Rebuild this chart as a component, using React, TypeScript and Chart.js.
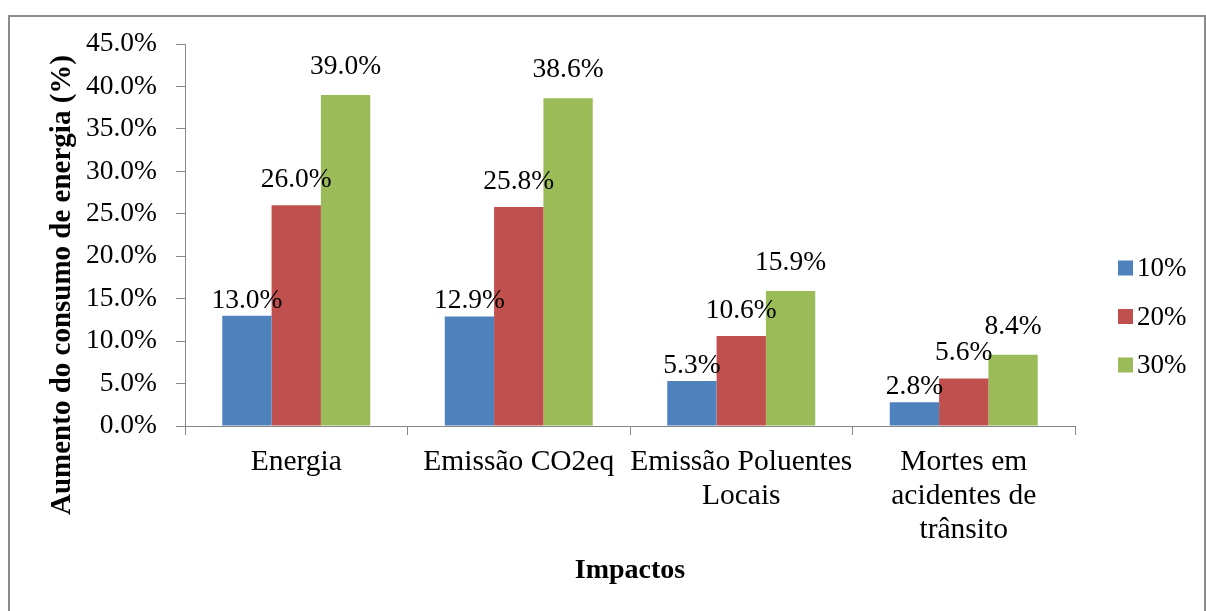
import React, { useEffect, useRef } from "react";
import { Chart, registerables } from "chart.js";

Chart.register(...registerables);

const categories: string[][] = [
  ["Energia"],
  ["Emissão CO2eq"],
  ["Emissão Poluentes", "Locais"],
  ["Mortes em", "acidentes de", "trânsito"],
];
const seriesNames = ["10%", "20%", "30%"];
const series10 = [13.0, 12.9, 5.3, 2.8];
const series20 = [26.0, 25.8, 10.6, 5.6];
const series30 = [39.0, 38.6, 15.9, 8.4];
const seriesColors = ["#4F81BD", "#C0504D", "#9BBB59"];
const yMin = 0;
const yMax = 45;
const yStep = 5;
const xTitle = "Impactos";
const yTitle = "Aumento do consumo de energia (%)";

const FONT = '"Liberation Serif", "Times New Roman", serif';
const AXIS = "#868686";
const labelLift = [8, 18, 21];

const fmt = (v: number) => v.toFixed(1) + "%";

const framePlugin = {
  id: "frame",
  beforeDraw(chart: any) {
    const ctx = chart.ctx;
    ctx.save();
    ctx.fillStyle = "#ffffff";
    ctx.fillRect(0, 0, chart.width, chart.height);
    ctx.strokeStyle = "#8c8c8c";
    ctx.lineWidth = 2;
    ctx.strokeRect(9, 16, 1196, 640);
    ctx.restore();
  },
};

const valueLabels = {
  id: "valueLabels",
  afterDatasetsDraw(chart: any) {
    const ctx = chart.ctx;
    ctx.save();
    ctx.font = `27.5px ${FONT}`;
    ctx.fillStyle = "#000";
    ctx.textAlign = "center";
    ctx.textBaseline = "alphabetic";
    chart.data.datasets.forEach((ds: any, di: number) => {
      const meta = chart.getDatasetMeta(di);
      meta.data.forEach((bar: any, i: number) => {
        ctx.fillText(fmt(ds.data[i]), bar.x, bar.y - labelLift[di]);
      });
    });
    ctx.restore();
  },
};

const sideTexts = {
  id: "sideTexts",
  afterDraw(chart: any) {
    const ctx = chart.ctx;
    ctx.save();
    // y-axis title
    ctx.font = `bold 29px ${FONT}`;
    ctx.fillStyle = "#000";
    ctx.textAlign = "center";
    ctx.textBaseline = "alphabetic";
    ctx.translate(70, 285);
    ctx.rotate(-Math.PI / 2);
    ctx.fillText(yTitle, 0, 0);
    ctx.restore();

    // legend
    ctx.save();
    ctx.font = `27px ${FONT}`;
    ctx.textAlign = "left";
    ctx.textBaseline = "middle";
    chart.data.datasets.forEach((ds: any, i: number) => {
      const yc = 268 + i * 48.5;
      ctx.fillStyle = ds.backgroundColor;
      ctx.fillRect(1118, yc - 7.5, 15, 15);
      ctx.fillStyle = "#000";
      ctx.fillText(ds.label, 1137, yc + 1);
    });
    ctx.restore();
  },
};

export default function App() {
  const ref = useRef<HTMLCanvasElement>(null);
  useEffect(() => {
    if (!ref.current) return;
    const chart = new Chart(ref.current, {
      type: "bar",
      data: {
        labels: categories,
        datasets: [series10, series20, series30].map((d, i) => ({
          label: seriesNames[i],
          data: d,
          backgroundColor: seriesColors[i],
          borderWidth: 0,
          barPercentage: 1,
          categoryPercentage: 0.665,
        })),
      },
      options: {
        responsive: false,
        animation: false,
        layout: { padding: { left: 0, top: 44, right: 131, bottom: 0 } },
        plugins: {
          legend: { display: false },
          tooltip: { enabled: false },
        },
        scales: {
          x: {
            grid: {
              display: true,
              drawOnChartArea: false,
              drawTicks: true,
              tickLength: 9,
              color: AXIS,
              offset: true,
            },
            border: { display: true, color: AXIS, width: 1 },
            ticks: {
              color: "#000",
              font: { family: FONT, size: 29.5, lineHeight: 1.15 },
              padding: 10,
              maxRotation: 0,
              minRotation: 0,
              autoSkip: false,
            },
            title: {
              display: true,
              text: xTitle,
              color: "#000",
              font: { family: FONT, size: 28, weight: "bold", lineHeight: 1.2 },
              padding: { top: 0, bottom: 23 },
            },
            afterFit: (s: any) => {
              s.height = 185;
            },
          },
          y: {
            min: yMin,
            max: yMax,
            grid: {
              display: true,
              drawOnChartArea: false,
              drawTicks: true,
              tickLength: 9,
              color: AXIS,
            },
            border: { display: true, color: AXIS, width: 1 },
            ticks: {
              stepSize: yStep,
              color: "#000",
              font: { family: FONT, size: 27.5 },
              padding: 19,
              callback: (v: any) => fmt(Number(v)),
            },
            afterFit: (s: any) => {
              s.width = 185;
            },
          },
        },
      },
      plugins: [framePlugin, valueLabels, sideTexts],
    } as any);
    return () => chart.destroy();
  }, []);
  return (
    <canvas
      ref={ref}
      width={1206}
      height={611}
      style={{ position: "absolute", left: 0, top: 0, display: "block" }}
    />
  );
}
